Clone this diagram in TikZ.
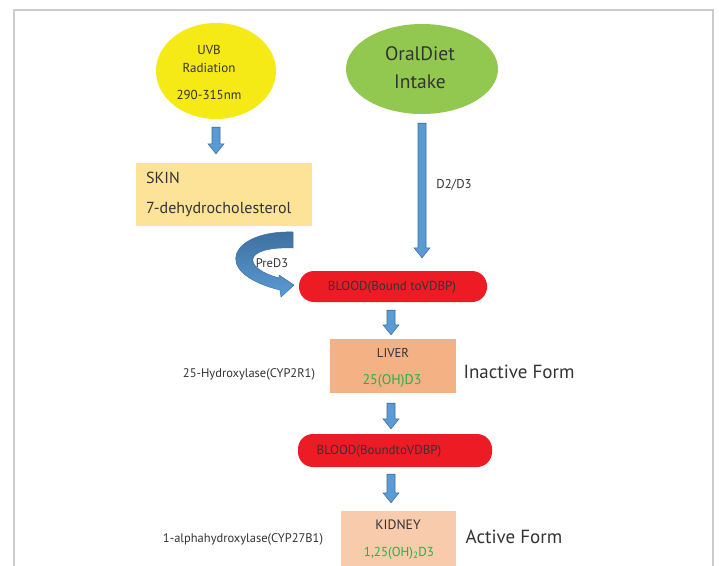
\documentclass[tikz,border=0pt]{standalone}
\usepackage{fontspec}
\setmainfont{PT Sans}
\usetikzlibrary{shapes.geometric,calc}
\definecolor{sunyellow}{HTML}{F5E916}
\definecolor{dietgreen}{HTML}{92C850}
\definecolor{skinfill}{HTML}{FDE398}
\definecolor{bloodred}{HTML}{ED1C24}
\definecolor{liverfill}{HTML}{F4B183}
\definecolor{kidneyfill}{HTML}{F8CBAD}
\definecolor{arrowblue}{HTML}{5B9BD5}
\definecolor{arrowdark}{HTML}{3D6F9E}
\definecolor{formgreen}{HTML}{22B14C}
\definecolor{inkgray}{HTML}{333333}
\definecolor{framegray}{HTML}{CCCCCC}
\tikzset{
	fat/.style={draw=arrowdark, fill=arrowblue, line width=0.6pt,
		to path={let \p1=(\tikztostart), \p2=(\tikztotarget) in
			(\x1-4pt,\y1) -- (\x1+4pt,\y1) -- (\x1+4pt,\y2+10pt) -- (\x1+8pt,\y2+10pt)
			-- (\x1,\y2) -- (\x1-8pt,\y2+10pt) -- (\x1-4pt,\y2+10pt) -- cycle}},
	organ/.style={rectangle, inner sep=0pt},
	blood/.style={rectangle, rounded corners=15pt, fill=bloodred, inner sep=0pt}
}
\begin{document}
\begin{tikzpicture}[x=1pt,y=-1pt,text=inkgray]
		\clip (0,0) rectangle (719,565);
		\fill[white] (0,0) rectangle (719,565);
		\draw[framegray, line width=1.2pt] (14,575) -- (14,10) -- (713,10) -- (713,575);
		\begin{scope}[every node/.style={ellipse, inner sep=0pt}]
			\node[fill=sunyellow, minimum width=120pt, minimum height=96pt] (uvb) at (216,71) {};
			\node[fill=dietgreen, minimum width=152pt, minimum height=90pt] (diet) at (422,69) {};
		\end{scope}
		\node[organ, fill=skinfill, minimum width=176pt, minimum height=63pt] (skin) at (224,194.5) {};
		\node[blood, minimum width=188pt, minimum height=31pt] (blood1) at (393,286.5) {};
		\node[organ, fill=liverfill, minimum width=126pt, minimum height=54pt] (liver) at (393,366) {};
		\node[blood, minimum width=194pt, minimum height=33pt] (blood2) at (395,450.5) {};
		\node[organ, fill=kidneyfill, minimum width=115pt, minimum height=70pt] (kidney) at (398.5,546) {};
		% texts
		\begin{scope}[every node/.style={inner sep=0pt}]
			\node[font=\fontsize{13}{18}\selectfont, align=center] (uvbtext) at (209,72) {UVB\\Radiation\\[9pt]290-315nm};
			\node[font=\fontsize{19.5}{28}\selectfont, align=center] (diettext) at (420,68) {OralDiet\\Intake};
			\node[font=\fontsize{16}{30}\selectfont, align=left, anchor=west] (skintext) at (146,194) {SKIN\\7-dehydrocholesterol};
			\node[font=\fontsize{13}{15}\selectfont] (blood1text) at (392,287) {BLOOD(Bound toVDBP)};
			\node[font=\fontsize{12.8}{14}\selectfont] (livername) at (393,353) {LIVER};
			\node[font=\fontsize{14}{16}\selectfont, text=formgreen] (liverform) at (392,381) {25(OH)D3};
			\node[font=\fontsize{13}{15}\selectfont] (blood2text) at (379,451) {BLOOD(BoundtoVDBP)};
			\node[font=\fontsize{13.6}{15}\selectfont] (kidneyname) at (398,525) {KIDNEY};
			\node[font=\fontsize{13}{15}\selectfont, text=formgreen] (kidneyform) at (399,553) {1,25(OH)\textsubscript{2}D3};
			\node[font=\fontsize{12.5}{14}\selectfont] (hydroxylase) at (249,374) {25-Hydroxylase(CYP2R1)};
			\node[font=\fontsize{12.5}{14}\selectfont] (alphahydroxylase) at (243,539) {1-alphahydroxylase(CYP27B1)};
			\node[font=\fontsize{19}{21}\selectfont] (inactive) at (519,372) {Inactive Form};
			\node[font=\fontsize{19}{21}\selectfont] (active) at (514,537) {Active Form};
			\node[font=\fontsize{12.8}{14}\selectfont] (dlabel) at (454,185) {D2/D3};
			\node[font=\fontsize{12.5}{14}\selectfont] (prelabel) at (272,263) {PreD3};
		\end{scope}
		% arrows
		\path[fat] ($(uvb.south)+(0,8)$) to ($(skin.north -| uvb.south)+(0,-9)$);
		\path[fat] ($(diet.south)+(0,9)$) to ($(blood1.north -| diet.south)+(0,-13)$);
		\path[fat] ($(blood1.south)+(-2,8)$) to ($(liver.north -| blood1.south)+(-2,-4)$);
		\path[fat] ($(liver.south)+(-2,10)$) to ($(blood2.north -| liver.south)+(-2,-5)$);
		\path[fat] ($(blood2.south)+(-4,7)$) to ($(kidney.north -| blood2.south)+(-4,-8)$);
		\shade[top color=arrowdark, bottom color=arrowblue, draw=arrowdark, line width=0.5pt]
			(293,232) .. controls (232,230) and (208,272) .. (280,290)
			-- (281,297) -- (294,285) -- (279,275) -- (279,278)
			.. controls (242,268) and (242,246) .. (293,248) -- cycle;
\end{tikzpicture}
\end{document}
